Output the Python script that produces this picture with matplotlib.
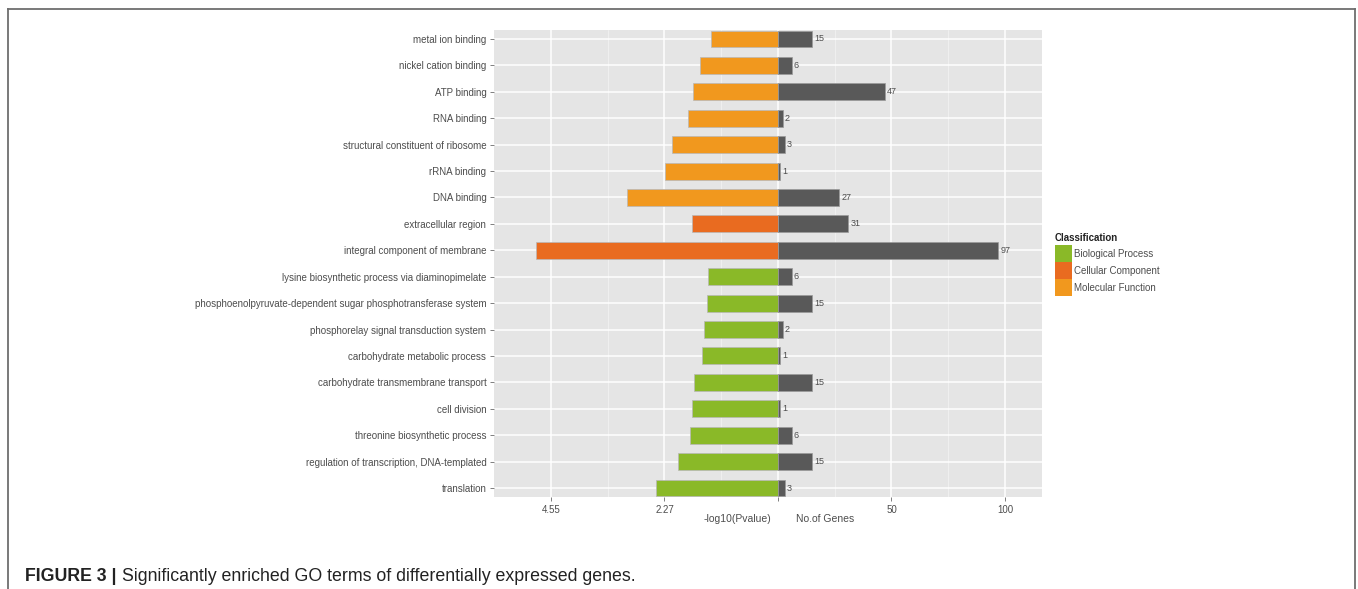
import matplotlib
matplotlib.use("Agg")
import matplotlib.pyplot as plt
from matplotlib.patches import Rectangle
import numpy as np

plt.rcParams["font.family"] = ["Liberation Sans", "DejaVu Sans"]

# GO terms, listed top to bottom as drawn
terms = ["metal ion binding", "nickel cation binding", "ATP binding", "RNA binding",
         "structural constituent of ribosome", "rRNA binding", "DNA binding",
         "extracellular region", "integral component of membrane",
         "lysine biosynthetic process via diaminopimelate",
         "phosphoenolpyruvate-dependent sugar phosphotransferase system",
         "phosphorelay signal transduction system", "carbohydrate metabolic process",
         "carbohydrate transmembrane transport", "cell division",
         "threonine biosynthetic process", "regulation of transcription, DNA-templated",
         "translation"]
classes = ["Molecular Function"] * 7 + ["Cellular Component"] * 2 + ["Biological Process"] * 9
neglog_p = [1.35, 1.56, 1.71, 1.81, 2.13, 2.26, 3.02, 1.72, 4.86,
            1.40, 1.43, 1.49, 1.53, 1.69, 1.73, 1.76, 2.01, 2.45]
gene_counts = [15, 6, 47, 2, 3, 1, 27, 31, 97, 6, 15, 2, 1, 15, 1, 6, 15, 3]

class_names = ["Biological Process", "Cellular Component", "Molecular Function"]
class_colors = {"Biological Process": "#8AB928", "Cellular Component": "#E96B20",
                "Molecular Function": "#F1981E"}
gene_color = "#595959"
text_grey = "#4D4D4D"

# p-value side shares the gene axis: 4.55 on the left lines up with 100 genes
p_scale = 100 / 4.55

W, H = 1358, 589
fig = plt.figure(figsize=(W / 100, H / 100), dpi=100)
ax = fig.add_axes([494 / W, 1 - 497 / H, (1042 - 494) / W, (497 - 30) / H])
ax.set_facecolor("#E5E5E5")

n = len(terms)
ypos = np.arange(n)[::-1]
left = -np.array(neglog_p) * p_scale
ax.barh(ypos, left, height=0.64, color=[class_colors[c] for c in classes],
        edgecolor="#B8B8B8", linewidth=0.5, zorder=3)
ax.barh(ypos, gene_counts, height=0.64, color=gene_color,
        edgecolor="#9A9A9A", linewidth=0.5, zorder=3)
for y, g in zip(ypos, gene_counts):
    ax.text(g + 1.0, y, str(g), va="center", ha="left", fontsize=6.5, color=text_grey, zorder=4)

ax.set_xlim(-125.1, 116.3)
ax.set_ylim(-0.34, n - 1 + 0.34)
ax.set_xticks([-100, -50, 0, 50, 100])
ax.set_xticklabels(["4.55", "2.27", "", "50", "100"])
ax.set_xticks([-75, -25, 25, 75], minor=True)
ax.set_yticks(ypos)
ax.set_yticklabels(terms)
ax.grid(True, which="major", color="white", linewidth=1.1, zorder=0)
ax.grid(True, which="minor", axis="x", color="#F4F4F4", linewidth=0.5, zorder=0)
ax.set_axisbelow(True)
ax.tick_params(which="major", length=3, width=0.7, color="#7F7F7F",
               labelsize=7, labelcolor=text_grey, pad=2.5)
ax.tick_params(which="minor", length=0)
for s in ax.spines.values():
    s.set_visible(False)

fig.text(737 / W, 1 - 519 / H, "-log10(Pvalue)", ha="center", va="center",
         fontsize=7.5, color=text_grey)
fig.text(825 / W, 1 - 519 / H, "No.of Genes", ha="center", va="center",
         fontsize=7.5, color=text_grey)

# legend drawn as keys + labels in figure pixels
fig.text(1055 / W, 1 - 238 / H, "Classification", ha="left", va="center",
         fontsize=7, fontweight="bold", color="#222222")
for i, name in enumerate(class_names):
    top = 245 + i * 17
    fig.patches.append(Rectangle((1055 / W, 1 - (top + 17) / H), 17 / W, 17 / H,
                                 transform=fig.transFigure, facecolor=class_colors[name],
                                 edgecolor="none"))
    fig.text(1074 / W, 1 - (top + 9) / H, name, ha="left", va="center",
             fontsize=7, color=text_grey)

# frame around the figure panel (open at the bottom)
frame_kw = dict(transform=fig.transFigure, color="#6E6E6E", linewidth=1.3)
fig.add_artist(plt.Line2D([8 / W, 1355 / W], [1 - 9 / H, 1 - 9 / H], **frame_kw))
fig.add_artist(plt.Line2D([8 / W, 8 / W], [0, 1 - 9 / H], **frame_kw))
fig.add_artist(plt.Line2D([1355 / W, 1355 / W], [0, 1 - 9 / H], **frame_kw))

# caption: bold figure number followed by the plain description
head = fig.text(25 / W, 1 - 581 / H, "FIGURE 3 |", ha="left", va="baseline",
                fontsize=12.8, fontweight="bold", color="#222222")
bbox = head.get_window_extent(renderer=fig.canvas.get_renderer())
fig.text((bbox.x1 + 6) / W, 1 - 581 / H,
         "Significantly enriched GO terms of differentially expressed genes.",
         ha="left", va="baseline", fontsize=12.8, color="#222222")
fig.savefig("out.png", dpi=100, facecolor="white")
